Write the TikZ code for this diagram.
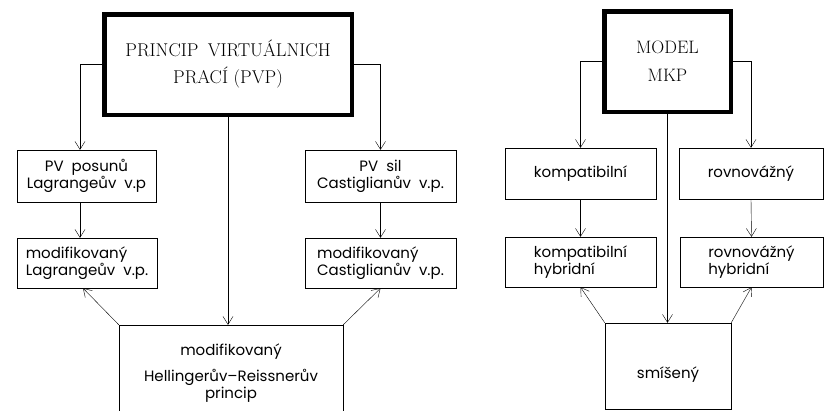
\documentclass[tikz,border=0pt]{standalone}
\usepackage{fontspec}
\newfontfamily\lettering[Ligatures=TeX,WordSpace=2]{Poppins}
\usetikzlibrary{arrows.meta}

\begin{document}
\begin{tikzpicture}[x=1pt,y=-1pt,
 bigbox/.style={draw,line width=4.5pt,align=center,font=\fontsize{18.5}{27}\selectfont},
 box/.style={draw,thin,font=\lettering\fontsize{15}{17}\selectfont},
 arr/.style={thin,-{Straight Barb[length=8pt,width=10pt]}}]
 \useasboundingbox (0,0) rectangle (825,410);

 % principy
 \node[bigbox,minimum width=247.5pt,minimum height=100.5pt] (pvp) at (228,64.5){PRINCIP\hspace{0.5em}VIRTUÁLNICH\\PRACÍ (PVP)};
 \node[box,align=center,minimum width=139pt,minimum height=52pt] (posun) at (86.5,176){PV posunů\\Lagrangeův v.p};
 \node[box,align=center,minimum width=151pt,minimum height=52pt] (sil) at (380.5,176){PV sil\\Castiglianův v.p.};
 \node[box,align=left,minimum width=140pt,minimum height=50pt] (modlag) at (87,263){modifikovaný\\Lagrangeův v.p.};
 \node[box,align=left,minimum width=151pt,minimum height=50pt] (modcas) at (380.5,263){modifikovaný\\Castiglianův v.p.};
 \node[box,align=center,minimum width=224pt,minimum height=96pt] (hr) at (231,373){modifikovaný\\[9pt]Hellingerův--Reissnerův\\princip};

 \draw[arr] (pvp.west) -| ([xshift=-6.5pt]posun.north);
 \draw[arr] (pvp.east) -| (sil.north);
 \draw[arr] (pvp.south) -- (pvp.south |- hr.north);
 \draw[arr] ([xshift=-6.5pt]posun.south) -- ([xshift=-6.5pt]posun.south |- modlag.north);
 \draw[arr] (sil.south) -- (modcas.north);
 \draw[arr] (hr.north west) -- ([xshift=-4pt]modlag.south);
 \draw[arr] (hr.north east) -- (modcas.south);

 % modely MKP
 \node[bigbox,minimum width=126.5pt,minimum height=100.5pt,font=\fontsize{18}{28}\selectfont] (mkp) at (667.5,61.5){MODEL\\MKP};
 \node[box,minimum width=151pt,minimum height=51pt] (komp) at (580.5,173.5){kompatibilní};
 \node[box,minimum width=144pt,minimum height=51pt] (rovn) at (751,173.5){rovnovážný};
 \node[box,align=left,minimum width=151pt,minimum height=50pt] (komph) at (580.5,262){kompatibilní\\hybridní};
 \node[box,align=left,minimum width=143pt,minimum height=50pt] (rovnh) at (751.5,262){rovnovážný\\hybridní};
 \node[box,minimum width=126pt,minimum height=86pt,text height=28pt,text depth=4pt] (smis) at (668,366){smíšený};

 \draw[arr] (mkp.west) -| (komp.north);
 \draw[arr] (mkp.east) -| (rovn.north);
 \draw[arr] (mkp.south) -- (mkp.south |- smis.north);
 \draw[arr] (komp.south) -- (komph.north);
 \draw[arr] (rovn.south) -- (rovnh.north);
 \draw[arr] (smis.north west) -- (komph.south);
 \draw[arr] (smis.north east) -- (rovnh.south);
\end{tikzpicture}
\end{document}
